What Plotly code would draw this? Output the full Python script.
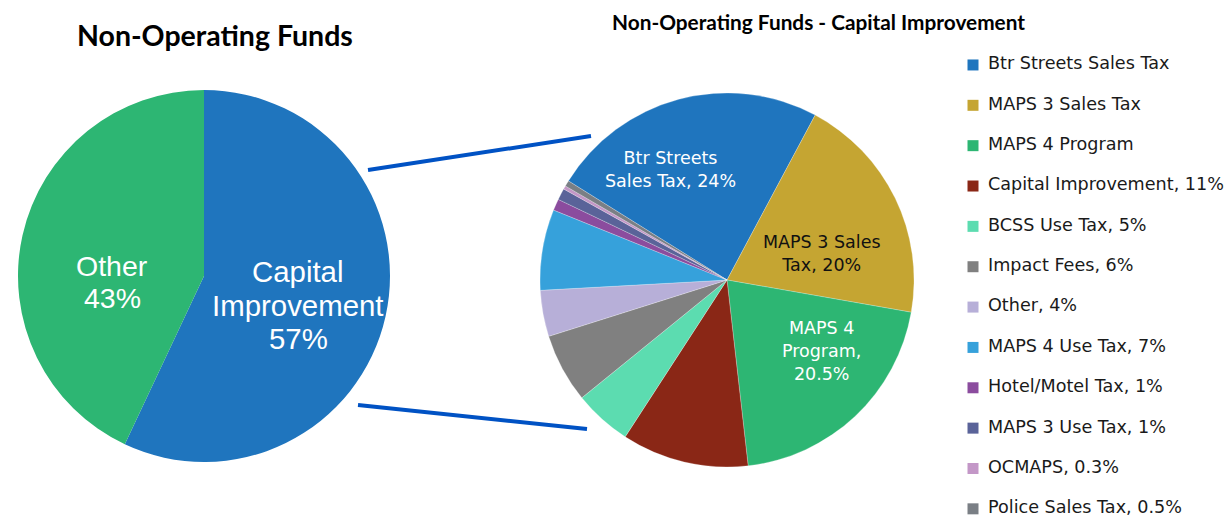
import plotly.graph_objects as go

W, H = 1230, 517

# ---------------- data ----------------
left_labels = ["Capital Improvement", "Other"]
left_values = [57, 43]
left_colors = ["#1f75be", "#2db673"]

right_labels = [
    "Btr Streets Sales Tax", "MAPS 3 Sales Tax", "MAPS 4 Program",
    "Capital Improvement", "BCSS Use Tax", "Impact Fees", "Other",
    "MAPS 4 Use Tax", "Hotel/Motel Tax", "MAPS 3 Use Tax", "OCMAPS",
    "Police Sales Tax",
]
right_values = [24, 20, 20.5, 11, 5, 6, 4, 7, 1, 1, 0.3, 0.5]
right_colors = [
    "#1f75be", "#c5a532", "#2db673", "#8a2716", "#5cdcb0", "#808080",
    "#b7afd8", "#36a1db", "#8b4c9e", "#5a6399", "#c397c7", "#7a7f85",
]
legend_texts = [
    "Btr Streets Sales Tax", "MAPS 3 Sales Tax", "MAPS 4 Program",
    "Capital Improvement, 11%", "BCSS Use Tax, 5%", "Impact Fees, 6%",
    "Other, 4%", "MAPS 4 Use Tax, 7%", "Hotel/Motel Tax, 1%",
    "MAPS 3 Use Tax, 1%", "OCMAPS, 0.3%", "Police Sales Tax, 0.5%",
]


def px(x):
    return x / W


def py(y):
    return 1 - y / H


fig = go.Figure()

# Left pie
fig.add_trace(go.Pie(
    labels=left_labels, values=left_values, sort=False, direction="clockwise",
    rotation=0, marker=dict(colors=left_colors, line=dict(width=0)),
    textinfo="none", hoverinfo="label+percent", showlegend=False,
    domain=dict(x=[px(18), px(390)], y=[py(462), py(90)]),
))

# Right pie
fig.add_trace(go.Pie(
    labels=right_labels, values=right_values, sort=False, direction="clockwise",
    rotation=-58, marker=dict(colors=right_colors, line=dict(width=0.4, color="rgba(255,255,255,0.6)")),
    textinfo="none", hoverinfo="label+value", showlegend=False,
    domain=dict(x=[px(540), px(914)], y=[py(467), py(93)]),
))

# Manual legend (markers + text) on hidden axes
idx = list(range(len(legend_texts)))
fig.add_trace(go.Scatter(
    x=[0] * len(idx), y=idx, mode="markers",
    marker=dict(symbol="square", size=11, color=right_colors, line=dict(width=0)),
    cliponaxis=False, hoverinfo="skip", showlegend=False,
    xaxis="x", yaxis="y",
))
fig.add_trace(go.Scatter(
    x=[15] * len(idx), y=idx, mode="text", text=legend_texts,
    textposition="middle right",
    textfont=dict(family="DejaVu Sans", size=17.6, color="#1a1a1a"),
    cliponaxis=False, hoverinfo="skip", showlegend=False,
    xaxis="x", yaxis="y",
))

annotations = [
    dict(text="<b>Non-Operating Funds</b>", x=px(215), y=py(35),
         font=dict(family="Lato", size=28.5, color="#000000")),
    dict(text="<b>Non-Operating Funds - Capital Improvement</b>", x=px(818), y=py(21),
         font=dict(family="Lato", size=20.8, color="#000000")),
    dict(text="Capital", x=px(298), y=py(271),
         font=dict(family="Liberation Sans", size=29.4, color="#ffffff")),
    dict(text="Improvement", x=px(298), y=py(305),
         font=dict(family="Liberation Sans", size=29.4, color="#ffffff")),
    dict(text="57%", x=px(298), y=py(338),
         font=dict(family="Liberation Sans", size=29.4, color="#ffffff")),
    dict(text="Other", x=px(112), y=py(266),
         font=dict(family="Liberation Sans", size=28.5, color="#ffffff")),
    dict(text="43%", x=px(112), y=py(298),
         font=dict(family="Liberation Sans", size=28.5, color="#ffffff")),
    dict(text="Btr Streets<br>Sales Tax, 24%", x=px(670), y=py(169),
         font=dict(family="DejaVu Sans", size=17.5, color="#ffffff")),
    dict(text="MAPS 3 Sales<br>Tax, 20%", x=px(822), y=py(254),
         font=dict(family="DejaVu Sans", size=17.5, color="#111111")),
    dict(text="MAPS 4<br>Program,<br>20.5%", x=px(821), y=py(351),
         font=dict(family="DejaVu Sans", size=17.5, color="#ffffff")),
]
for a in annotations:
    a.update(xref="paper", yref="paper", showarrow=False, xanchor="center", yanchor="middle")

shapes = [
    dict(type="line", xref="paper", yref="paper", x0=px(368), y0=py(170), x1=px(591), y1=py(136),
         line=dict(color="#0052c4", width=4)),
    dict(type="line", xref="paper", yref="paper", x0=px(358), y0=py(405), x1=px(587), y1=py(429),
         line=dict(color="#0052c4", width=4)),
]

fig.update_layout(
    width=W, height=H,
    margin=dict(l=0, r=0, t=0, b=0),
    paper_bgcolor="#ffffff", plot_bgcolor="rgba(0,0,0,0)",
    showlegend=False,
    annotations=annotations, shapes=shapes,
    xaxis=dict(domain=[px(973), 1.0], range=[0, W - 973], visible=False, fixedrange=True),
    yaxis=dict(domain=[py(516.9), py(56.9)], range=[11.2, -0.2], visible=False, fixedrange=True),
)

fig.write_html(
    "out.html",
    config={"displayModeBar": False},
    post_script="document.body.style.margin='0';document.body.style.overflow='hidden';",
)
